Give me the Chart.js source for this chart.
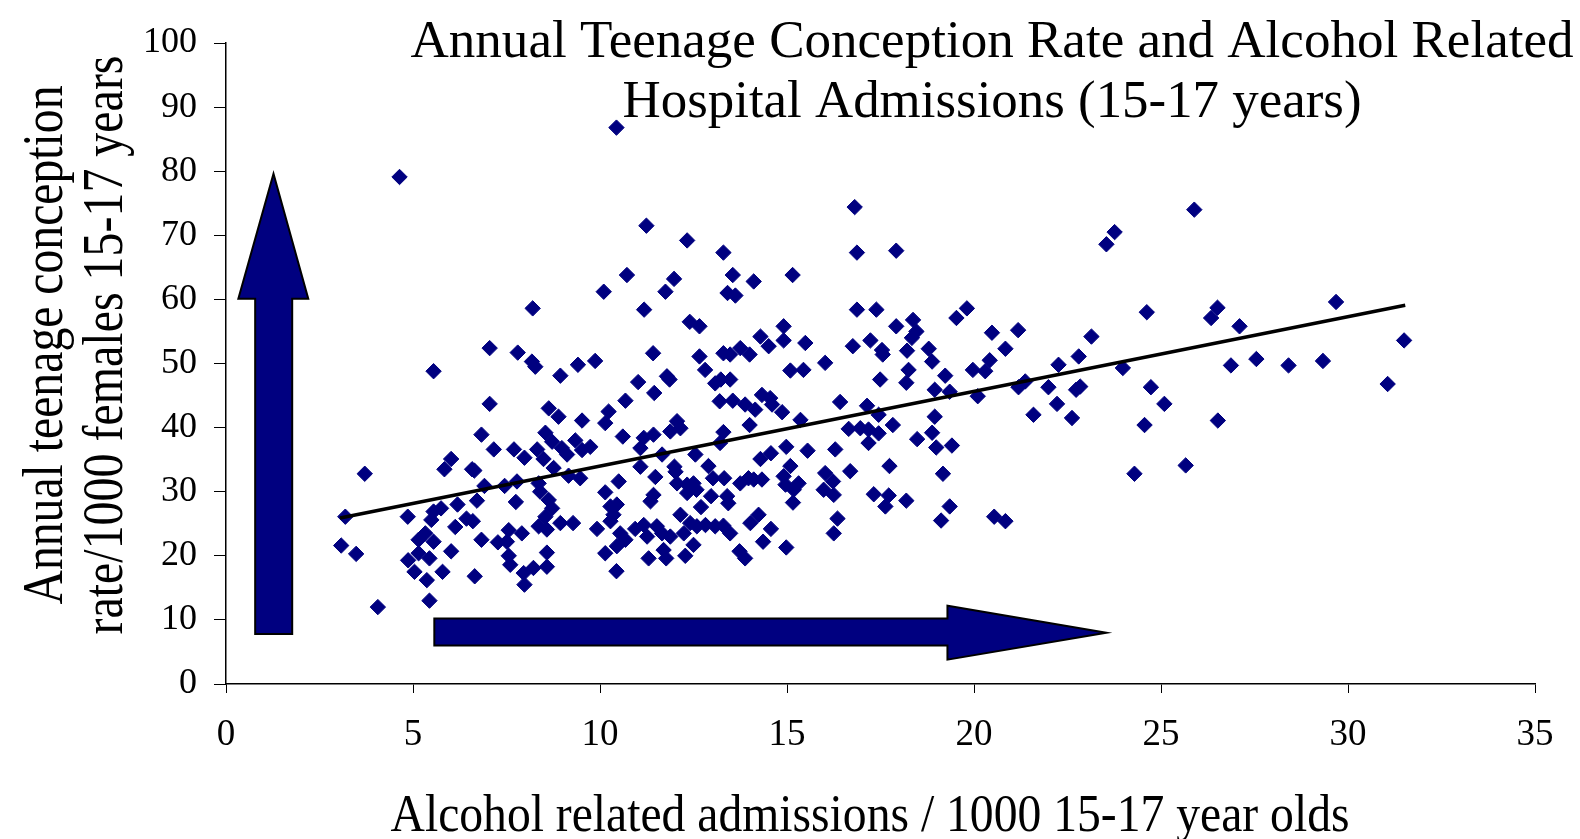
<!DOCTYPE html>
<html>
<head>
<meta charset="utf-8">
<script src="https://cdn.jsdelivr.net/npm/chart.js@4.4.1/dist/chart.umd.min.js"></script>
<style>
    html, body { margin: 0; padding: 0; background: #fff; }
    #wrap { width: 1580px; height: 839px; position: relative; }
</style>
</head>
<body>
<div id="wrap"><canvas id="scatterChart"></canvas></div>
<script>
// alcohol related admissions / 1000 (x) and teenage conception rate (y), one pair per area
const admissions = [
    3.08, 3.19, 3.48, 3.71, 4.06, 4.64, 4.86, 4.87, 5.04, 5.15, 5.15, 5.33, 5.37, 5.44, 5.44, 5.49, 5.55, 5.55, 5.55, 5.75,
    5.79, 5.84, 6.02, 6.02, 6.13, 6.19, 6.43, 6.58, 6.64, 6.60, 6.65, 6.71, 6.83, 6.83, 6.91, 7.05, 7.05, 7.16, 7.27, 7.45,
    7.51, 7.56, 7.56, 7.60, 7.70, 7.75, 7.80,
    10.44, 11.24, 12.33, 10.72, 11.98, 11.75, 10.10, 8.20, 11.18, 12.40, 12.66, 8.18, 8.27, 9.41, 9.87, 11.42, 12.66,
    8.94, 11.02, 11.79, 11.86, 11.45, 10.68, 8.63, 8.89, 9.52, 10.23, 10.14, 12.06, 12.15, 10.61, 8.54, 11.17, 11.43, 11.08,
    11.88, 8.72, 8.98, 9.34, 9.52, 9.74, 8.32, 8.49, 7.98, 9.12, 8.76, 9.16, 9.47, 11.08, 11.66, 11.99, 12.02, 12.55,
    8.36, 7.78, 10.50, 11.48, 12.06, 12.33, 12.50, 12.33, 12.58, 8.40, 10.14, 11.43, 11.35, 8.63, 8.72, 10.28, 10.45, 10.36,
    12.15, 12.70, 8.54, 8.36, 8.58, 8.94, 9.28, 7.91, 9.92, 10.28, 10.54, 10.68, 10.45, 10.94, 11.17, 11.26, 11.52, 11.66,
    11.88, 12.24, 12.41, 12.59, 12.50, 11.70, 10.14, 8.58, 11.30, 11.77, 12.28, 8.58, 8.22, 7.96, 10.44, 7.98,
    16.81, 13.30, 16.87, 17.92, 13.55, 14.11, 15.15, 13.41, 13.62, 16.87, 17.39, 17.92, 14.29, 14.91, 14.51, 14.91, 15.49,
    13.30, 13.48, 13.75, 14.00, 16.76, 17.23, 17.54, 17.56, 16.02, 15.09, 15.44, 12.81,
    17.49, 13.08, 13.23, 13.48, 13.20, 13.55, 14.33, 14.55, 14.60, 13.88, 14.15, 14.87, 16.42, 17.14, 17.45, 15.36, 14.00,
    13.30, 13.21, 16.65, 16.96, 17.18, 17.45, 17.18, 17.83, 14.98, 15.55, 16.29, 14.29, 14.57, 15.09, 12.90, 17.74, 16.69,
    16.02, 16.23, 15.98, 16.25, 13.02, 13.32, 13.75, 13.97, 14.11, 14.33, 14.91, 14.96, 15.31, 15.18, 12.97, 13.40, 13.43,
    15.16, 17.32, 17.72, 17.63, 14.24, 14.02, 16.35, 12.82, 13.08, 13.30, 13.48, 14.57, 16.25, 14.36, 14.98, 13.73, 13.88,
    19.81, 19.53, 18.37, 18.46, 18.34, 20.48, 21.18, 18.21, 18.79, 18.88, 20.84, 20.42, 22.80, 22.26, 18.25, 19.97, 20.30,
    18.19, 19.23, 18.95, 19.35, 20.10, 21.19, 21.37, 21.99, 22.22, 22.73, 22.84, 21.59, 22.62, 18.95, 18.88, 18.48, 18.99,
    19.41, 19.17, 18.19, 19.35, 19.12, 20.54, 20.84,
    25.89, 23.76, 23.54, 24.62, 26.51, 26.34, 29.68, 27.10, 23.14, 23.98, 31.50, 26.87, 27.55, 28.41, 29.33, 24.73, 25.09,
    31.06, 24.56, 26.52, 24.29, 25.66
];
const conceptionRate = [
    21.6, 26.1, 20.3, 32.8, 12.0, 79.1, 26.1, 19.3, 17.5, 22.5, 20.4, 23.5, 16.2, 19.6, 13.0, 25.6, 26.9, 22.2, 48.8, 27.4,
    17.5, 33.5, 35.1, 20.7, 24.5, 28.0, 25.8, 33.5, 33.3, 25.4, 16.8, 28.6, 38.9, 22.5, 30.9, 43.7, 52.4, 36.6, 22.1, 30.9,
    22.2, 24.0, 20.0, 18.6, 36.6, 28.4, 51.7,
    86.8, 71.5, 69.2, 63.8, 63.2, 61.2, 61.2, 58.6, 58.4, 56.5, 55.8, 50.3, 49.5, 49.8, 50.4, 51.6, 51.1,
    48.1, 47.1, 48.0, 47.5, 45.4, 44.2, 43.0, 41.7, 41.1, 42.5, 40.7, 41.0, 39.9, 38.6, 39.2, 38.4, 38.9, 36.8,
    39.4, 37.8, 36.8, 38.0, 36.5, 37.0, 36.6, 35.1, 35.3, 35.8, 33.7, 32.5, 32.1, 33.9, 35.8, 33.9, 33.1, 35.8,
    31.3, 31.6, 31.6, 32.3, 31.3, 31.1, 31.3, 29.8, 30.3, 30.0, 29.9, 29.5, 28.5, 28.7, 27.4, 27.7, 28.0, 26.4,
    26.4, 27.6, 26.1, 24.6, 24.1, 25.1, 25.1, 23.5, 24.2, 25.4, 23.5, 22.5, 21.5, 24.2, 24.8, 23.0, 24.6, 23.5,
    23.0, 23.5, 25.1, 24.6, 21.7, 20.9, 20.4, 20.5, 19.6, 19.6, 20.0, 18.3, 18.1, 17.3, 17.6, 15.5,
    74.4, 67.3, 67.3, 67.6, 63.8, 62.8, 63.8, 61.0, 60.6, 58.4, 58.4, 55.8, 54.2, 55.8, 52.7, 53.6, 53.2,
    51.6, 51.4, 52.4, 51.4, 52.7, 53.6, 52.1, 51.4, 50.1, 48.9, 49.0, 49.0,
    47.5, 46.9, 47.5, 47.5, 44.1, 44.2, 45.1, 44.6, 43.6, 43.6, 42.8, 42.4, 44.0, 43.4, 42.0, 41.2, 40.4,
    39.3, 37.6, 39.8, 39.9, 39.7, 39.1, 37.6, 40.4, 37.0, 36.4, 36.6, 35.1, 36.0, 34.0, 34.0, 34.0, 33.2,
    32.9, 31.6, 30.3, 29.5, 32.1, 32.1, 31.3, 32.1, 31.9, 31.9, 32.4, 31.1, 31.3, 30.3, 29.3, 29.3, 28.2,
    28.3, 29.6, 29.4, 27.7, 26.4, 25.1, 25.8, 24.8, 24.6, 24.7, 23.5, 24.2, 23.5, 22.2, 21.3, 20.7, 19.6,
    58.6, 57.1, 56.8, 55.0, 54.0, 54.8, 55.2, 52.0, 52.3, 50.3, 52.3, 50.5, 51.1, 49.8, 49.0, 49.0, 48.8,
    47.0, 48.1, 45.9, 45.6, 44.9, 46.3, 47.2, 46.3, 43.7, 45.9, 46.4, 42.0, 41.5, 41.7, 39.2, 38.2, 36.9,
    37.2, 32.8, 28.6, 27.7, 25.5, 26.1, 25.4,
    74.0, 70.5, 68.6, 58.0, 58.7, 57.1, 59.6, 55.8, 54.2, 49.3, 53.6, 49.7, 50.7, 49.7, 50.4, 46.3, 43.7,
    46.8, 40.4, 41.1, 32.8, 34.1
];
// fitted trend line at both ends
const trendX = [3.05, 31.53];
const trendY = [25.9, 59.1];

const xTicks = { min: 0, max: 35, step: 5 };
const yTicks = { min: 0, max: 100, step: 10 };

const titleLines = ["Annual Teenage Conception Rate and Alcohol Related", "Hospital Admissions (15-17 years)"];
const yTitleLines = ["Annual teenage conception", "rate/1000 females 15-17 years"];
const xTitle = "Alcohol related admissions / 1000 15-17 year olds";

const NAVY = "#000080";
const SERIF = '"Liberation Serif", "Times New Roman", serif';

function fitText(ctx, text, x, y, size, width, rotate) {
    ctx.save();
    ctx.translate(x, y);
    if (rotate) ctx.rotate(-Math.PI / 2);
    ctx.font = size + "px " + SERIF;
    const w = ctx.measureText(text).width;
    ctx.scale(width / w, 1);
    ctx.textAlign = "center";
    ctx.textBaseline = "alphabetic";
    ctx.fillStyle = "#000";
    ctx.fillText(text, 0, 0);
    ctx.restore();
}

// block arrows, positioned in data units
const arrowPlugin = {
    id: "arrows",
    beforeDatasetsDraw(chart) {
        const { ctx, scales: { x, y } } = chart;
        const px = v => x.getPixelForValue(v);
        const py = v => y.getPixelForValue(v);
        ctx.save();
        ctx.fillStyle = NAVY;
        ctx.strokeStyle = "#000";
        ctx.lineWidth = 2;
        ctx.lineJoin = "miter";

        ctx.beginPath();
        ctx.moveTo(px(0.78), py(7.8));
        ctx.lineTo(px(1.77), py(7.8));
        ctx.lineTo(px(1.77), py(60.1));
        ctx.lineTo(px(2.2), py(60.1));
        ctx.lineTo(px(1.27), py(79.6));
        ctx.lineTo(px(0.33), py(60.1));
        ctx.lineTo(px(0.78), py(60.1));
        ctx.closePath();
        ctx.fill();
        ctx.stroke();

        ctx.beginPath();
        ctx.moveTo(px(5.57), py(10.2));
        ctx.lineTo(px(19.29), py(10.2));
        ctx.lineTo(px(19.29), py(12.2));
        ctx.lineTo(px(23.54), py(8.0));
        ctx.lineTo(px(19.29), py(3.8));
        ctx.lineTo(px(19.29), py(6.0));
        ctx.lineTo(px(5.57), py(6.0));
        ctx.closePath();
        ctx.fill();
        ctx.stroke();
        ctx.restore();
    }
};

const titlePlugin = {
    id: "titles",
    afterDraw(chart) {
        const ctx = chart.ctx;
        fitText(ctx, titleLines[0], 992, 57, 53, 1163, false);
        fitText(ctx, titleLines[1], 992, 117, 53, 739, false);
        fitText(ctx, yTitleLines[0], 62, 345, 58, 519, true);
        fitText(ctx, yTitleLines[1], 122, 345, 58, 579, true);
        fitText(ctx, xTitle, 870, 831, 53, 959, false);
    }
};

document.addEventListener("DOMContentLoaded", () => {
    const ctx = document.getElementById("scatterChart");
    new Chart(ctx, {
        type: "scatter",
        data: {
            datasets: [{
                label: "Trend",
                data: trendX.map((v, i) => ({ x: v, y: trendY[i] })),
                showLine: true,
                borderColor: "#000",
                borderWidth: 3.5,
                pointRadius: 0,
                order: 0
            }, {
                label: "Areas",
                data: admissions.map((v, i) => ({ x: v, y: conceptionRate[i] })),
                pointStyle: "rectRot",
                pointRadius: 7.7,
                borderWidth: 1,
                backgroundColor: NAVY,
                borderColor: NAVY,
                order: 1
            }]
        },
        options: {
            responsive: true,
            maintainAspectRatio: false,
            animation: false,
            layout: { padding: { left: 0, top: 43, right: 45, bottom: 0 } },
            plugins: {
                legend: { display: false },
                tooltip: { enabled: false },
                title: { display: false }
            },
            scales: {
                x: {
                    type: "linear",
                    min: xTicks.min,
                    max: xTicks.max,
                    afterFit: s => { s.height = 155; },
                    ticks: {
                        stepSize: xTicks.step,
                        color: "#000",
                        padding: 20,
                        font: { family: SERIF, size: 37 }
                    },
                    grid: { drawOnChartArea: false, drawTicks: true, tickLength: 9, color: "#000", lineWidth: 1 },
                    border: { color: "#000", width: 1.5 }
                },
                y: {
                    min: yTicks.min,
                    max: yTicks.max,
                    afterFit: s => { s.width = 226; },
                    ticks: {
                        stepSize: yTicks.step,
                        color: "#000",
                        padding: 17,
                        font: { family: SERIF, size: 36 }
                    },
                    grid: { drawOnChartArea: false, drawTicks: true, tickLength: 12, color: "#000", lineWidth: 1 },
                    border: { color: "#000", width: 1.5 }
                }
            }
        },
        plugins: [arrowPlugin, titlePlugin]
    });
});
</script>
</body>
</html>
